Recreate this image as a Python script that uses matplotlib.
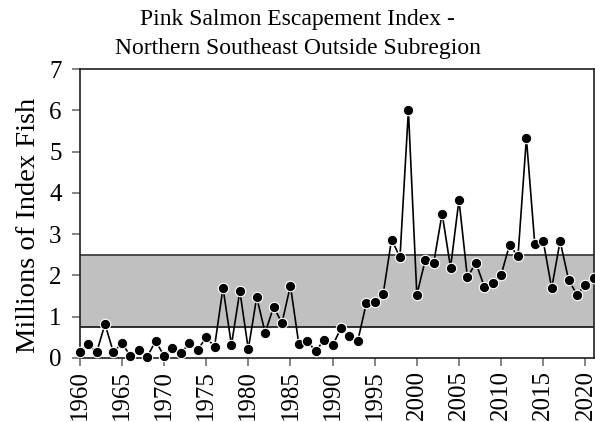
import numpy as np
from matplotlib import pyplot as plt

# data
years = list(range(1960, 2022))
escapement = [0.13, 0.34, 0.13, 0.82, 0.13, 0.36, 0.05, 0.19, 0.02, 0.41,
              0.05, 0.23, 0.12, 0.35, 0.19, 0.50, 0.27, 1.70, 0.31, 1.62,
              0.21, 1.47, 0.61, 1.23, 0.85, 1.75, 0.33, 0.41, 0.16, 0.44,
              0.30, 0.72, 0.52, 0.42, 1.32, 1.35, 1.54, 2.87, 2.44, 6.00,
              1.53, 2.37, 2.30, 3.50, 2.19, 3.83, 1.95, 2.31, 1.73, 1.82,
              2.01, 2.74, 2.46, 5.33, 2.75, 2.83, 1.69, 2.83, 1.90, 1.53,
              1.77, 1.94]
goal_low, goal_high = 0.75, 2.5
xticks = list(range(1960, 2021, 5))
yticks = list(range(0, 8))

plt.rcParams['font.family'] = ['Liberation Serif', 'DejaVu Serif']

fig = plt.figure(figsize=(5.95, 4.22), dpi=100)
ax = fig.add_axes([0.134, 0.152, 0.864, 0.684])

# management range band
ax.axhspan(goal_low, goal_high, facecolor="#c0c0c0", edgecolor="none", zorder=1)
ax.axhline(goal_high, color="#404040", lw=1.3, zorder=2)
ax.axhline(goal_low, color="#202020", lw=1.3, zorder=2)

ax.plot(years, escapement, color="black", lw=1.2, marker="o", markersize=7.5,
        markerfacecolor="black", markeredgecolor="white", markeredgewidth=0.8,
        zorder=3, clip_on=False)

ax.set_xlim(1960, 2021)
ax.set_ylim(0, 7)
ax.set_xticks(xticks)
ax.set_xticklabels([str(y) for y in xticks], rotation=90)
ax.set_yticks(yticks)
ax.tick_params(axis="both", direction="out", length=6, width=1.2, color="#707070",
               labelsize=18, pad=3)
ax.tick_params(axis="y", pad=7)

for s in ax.spines.values():
    s.set_color("#202020")
    s.set_linewidth(1.2)

ax.set_ylabel("Millions of Index Fish", fontsize=20.5)
ax.yaxis.set_label_coords(-0.075, 0.46)
fig.text(0.5, 0.978, "Pink Salmon Escapement Index -\nNorthern Southeast Outside Subregion",
         ha="center", va="top", fontsize=17, linespacing=1.5)

fig.savefig("out.png", dpi=100)
